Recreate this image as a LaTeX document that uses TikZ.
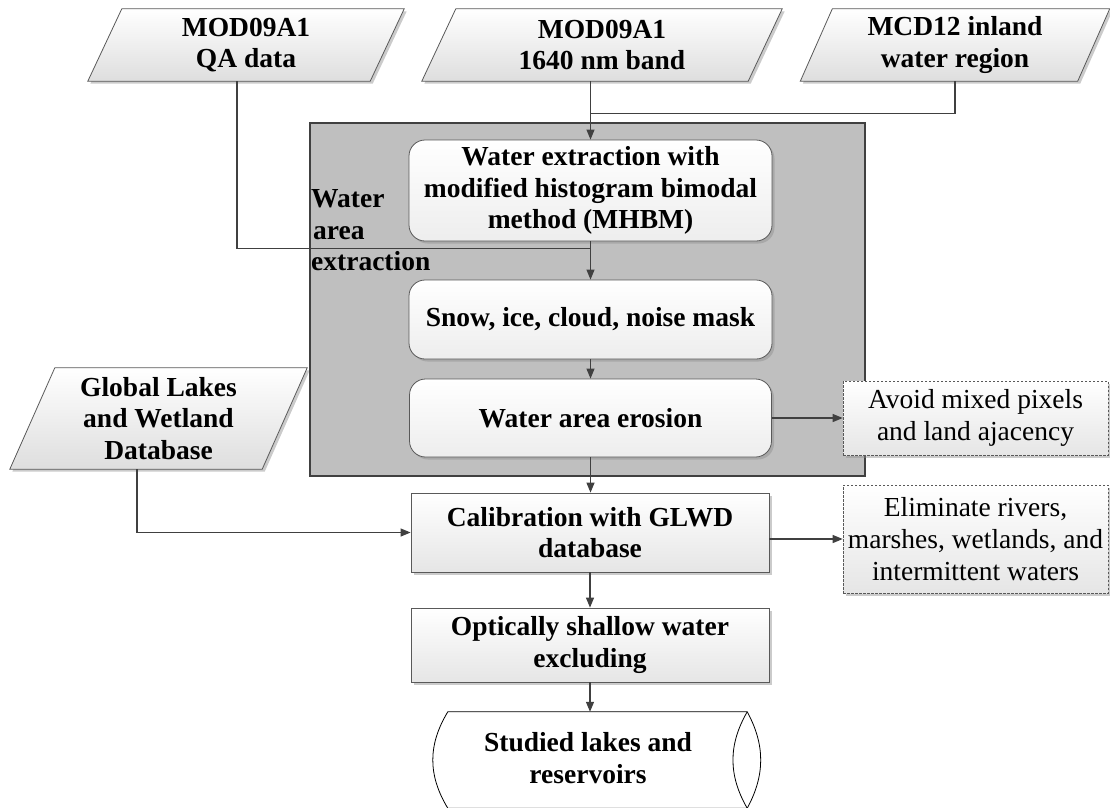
\documentclass[tikz,border=0pt]{standalone}
\usepackage{fontspec}
\setmainfont{Liberation Serif}
\usetikzlibrary{arrows.meta,shadows,calc}
\pgfdeclarelayer{bg}
\pgfsetlayers{bg,main}
\definecolor{linec}{HTML}{404040}
\definecolor{grayarea}{HTML}{BFBFBF}
\definecolor{boxedge}{HTML}{595959}
\tikzset{
  txt/.style={font=\fontsize{27.5}{31.6}\selectfont\bfseries, align=center, inner sep=0pt},
  shad/.style={drop shadow={shadow xshift=2.5pt, shadow yshift=-2.5pt, fill=black!45, opacity=0.45}},
  procbox/.style={txt, draw=boxedge, line width=0.8pt, top color=white, bottom color=black!10, shad},
  roundbox/.style={procbox, rounded corners=16pt, bottom color=black!7},
  notebox/.style={font=\fontsize{27.5}{31.6}\selectfont, align=center, inner sep=0pt,
    draw=boxedge, dash pattern=on 2.5pt off 1.5pt, line width=0.6pt, top color=white, bottom color=black!10, shad},
  para/.style={draw=boxedge, line width=0.8pt, top color=white, bottom color=black!13, shad},
  inbox/.style={txt},
  region/.style={draw=linec, line width=1.2pt, fill=grayarea},
  conn/.style={draw=linec, line width=1.1pt},
  arr/.style={conn, -{Triangle[length=10pt,width=8pt]}},
  storeline/.style={draw=black, line width=0.8pt}
}
\begin{document}
\begin{tikzpicture}[x=1pt,y=-1pt]
\useasboundingbox (0,0) rectangle (1110,807);

% gray region
\node[region, minimum width=555pt, minimum height=353pt] (wae) at (587.5,299.5) {};
\node[txt, align=left, anchor=west] (waelbl) at (311,230.5) {Water\\\hspace{2pt}area\\extraction};

% input data (parallelograms)
\node[inbox, minimum width=282pt, minimum height=72pt] (qa) at (246,45) {MOD09A1\\QA data};
\node[inbox, minimum width=326pt, minimum height=72pt] (b1640) at (602,45) {MOD09A1\\1640 nm band};
\node[inbox, minimum width=277pt, minimum height=72pt] (mcd) at (955,45) {MCD12 inland\\water region};
\node[inbox, minimum width=252pt, minimum height=101pt] (glwd) at (158.5,418.5) {Global Lakes\\and Wetland\\Database};
\begin{pgfonlayer}{bg}
\foreach \n/\s in {qa/17,b1640/17,mcd/16,glwd/22.5}{
  \path[para] ($(\n.south west)+(-\s,0)$) -- ($(\n.north west)+(\s,0)$) -- ($(\n.north east)+(\s,0)$) -- ($(\n.south east)+(-\s,0)$) -- cycle;
}
\end{pgfonlayer}

% process boxes
\node[roundbox, minimum width=363pt, minimum height=101pt] (box1) at (590.5,190.5) {Water extraction with\\modified histogram bimodal\\method (MHBM)};
\node[roundbox, minimum width=363pt, minimum height=79pt] (box2) at (590.5,319.5) {Snow, ice, cloud, noise mask};
\node[roundbox, minimum width=362pt, minimum height=78pt] (box3) at (590.5,418) {Water area erosion};
\node[procbox, minimum width=358pt, minimum height=79pt] (calib) at (590,532.5) {Calibration with GLWD\\database};
\node[procbox, minimum width=358pt, minimum height=74pt] (opt) at (590,645) {Optically shallow water\\excluding};

% notes
\node[notebox, minimum width=265pt, minimum height=74pt] (avoid) at (975.5,418) {Avoid mixed pixels\\and land ajacency};
\node[notebox, minimum width=265pt, minimum height=108pt] (elim) at (975.5,539) {Eliminate rivers,\\marshes, wetlands, and\\intermittent waters};

% stored data
\node[minimum width=299pt, minimum height=96pt, inner sep=0pt] (lakes) at (597.5,760) {};
\draw[storeline] (lakes.north west) -- (lakes.north east)
  .. controls ($(lakes.north east)+(18,33)$) and ($(lakes.south east)+(18,-33)$) .. (lakes.south east)
  -- (lakes.south west)
  .. controls ($(lakes.south west)+(-20,-33)$) and ($(lakes.north west)+(-20,33)$) .. cycle;
\draw[storeline] (lakes.north east) .. controls ($(lakes.north east)+(-19,33)$) and ($(lakes.south east)+(-19,-33)$) .. (lakes.south east);
\node[txt] (lakestxt) at (588,758) {Studied lakes and\\reservoirs};

% connectors
\coordinate (mj) at ($(b1640.south -| box1.north)+(0,32)$);
\coordinate (qaj) at ($(box1.south)!0.18!(box2.north)$);
\draw[conn] (mcd.south) |- (mj);
\draw[arr] (b1640.south -| box1.north) -- (box1.north);
\draw[conn] ([xshift=-9pt]qa.south) |- (qaj);
\draw[arr] (box1.south) -- (box2.north);
\draw[arr] (box2.south) -- (box3.north);
\draw[arr] (box3.south) -- (box3.south |- calib.north);
\draw[arr] (calib.south) -- (opt.north);
\draw[arr] (opt.south) -- (opt.south |- lakes.north);
\draw[arr] (box3.east) -- (avoid.west);
\draw[arr] (calib.east |- elim.west) -- (elim.west);
\draw[arr] ([xshift=-21.5pt]glwd.south) |- (calib.west);
\end{tikzpicture}
\end{document}
